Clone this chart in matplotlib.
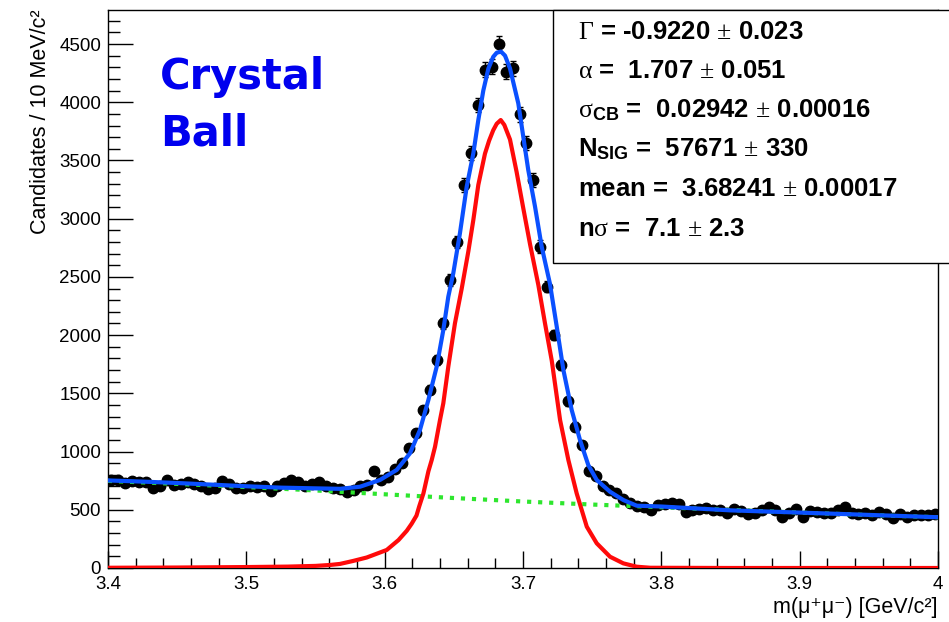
import numpy as np
import matplotlib.pyplot as plt
from matplotlib.patches import Rectangle
from matplotlib.ticker import MultipleLocator

plt.rcParams['font.family'] = ['Liberation Sans', 'DejaVu Sans']
plt.rcParams['mathtext.fontset'] = 'custom'
plt.rcParams['mathtext.rm'] = 'Liberation Sans:bold'
plt.rcParams['mathtext.bf'] = 'Liberation Sans:bold'
plt.rcParams['mathtext.sf'] = 'Liberation Serif'
plt.rcParams['mathtext.it'] = 'Liberation Serif'

# data: 5 MeV bins between 3.4 and 4.0 GeV
bin_centers = np.linspace(3.4025, 3.9975, 120)
counts = [760, 752, 730, 748, 742, 735, 690, 705, 755, 712,
          718, 740, 722, 705, 678, 690, 745, 725, 690, 685,
          700, 695, 705, 660, 700, 728, 752, 740, 700, 720,
          735, 705, 690, 675, 650, 668, 700, 715, 830, 760,
          785, 850, 900, 1030, 1160, 1355, 1530, 1785, 2100, 2475,
          2800, 3290, 3565, 3975, 4280, 4305, 4500, 4262, 4291, 3896,
          3647, 3332, 2760, 2416, 2000, 1745, 1430, 1215, 1056, 830,
          790, 700, 670, 640, 595, 560, 530, 520, 500, 540,
          548, 560, 552, 480, 498, 505, 515, 500, 495, 472,
          505, 490, 465, 475, 500, 525, 500, 440, 470, 510,
          440, 492, 478, 475, 470, 500, 525, 470, 462, 470,
          455, 478, 465, 430, 460, 435, 455, 458, 452, 462]

# total fit (blue)
total_x = [3.400, 3.425, 3.450, 3.475, 3.500, 3.525, 3.550, 3.5677, 3.5822, 3.5966,
           3.6087, 3.6183, 3.6255, 3.6316, 3.6376, 3.6424, 3.6460, 3.6496, 3.6544, 3.6593,
           3.6641, 3.6677, 3.6713, 3.6750, 3.6785, 3.6810, 3.6841, 3.6870, 3.6906, 3.6966,
           3.7002, 3.7038, 3.7087, 3.7135, 3.7195, 3.7244, 3.7292, 3.7352, 3.7412, 3.7472,
           3.7533, 3.7629, 3.7725, 3.7822, 3.800, 3.850, 3.900, 3.950, 4.000]
total_y = [752, 742, 730, 716, 702, 690, 684, 680, 698, 756,
           842, 985, 1185, 1443, 1729, 2044, 2330, 2531, 2874, 3275,
           3561, 3847, 4100, 4290, 4390, 4425, 4435, 4400, 4290, 3990,
           3704, 3418, 3103, 2760, 2440, 2072, 1700, 1357, 1099, 884,
           756, 655, 584, 535, 528, 495, 476, 456, 436]

# signal (red)
signal_x = [3.400, 3.450, 3.500, 3.530, 3.550, 3.5605, 3.5677, 3.577, 3.587, 3.6015,
            3.610, 3.616, 3.6195, 3.623, 3.625, 3.628, 3.6316, 3.634, 3.6364, 3.640,
            3.6424, 3.646, 3.6508, 3.6557, 3.6605, 3.6641, 3.6677, 3.6725, 3.6755, 3.6785,
            3.6810, 3.6839, 3.6865, 3.6906, 3.6954, 3.7002, 3.7051, 3.7111, 3.7159, 3.7208,
            3.7268, 3.7328, 3.7388, 3.7461, 3.7533, 3.7629, 3.7725, 3.7822, 3.792, 3.850,
            4.000]
signal_y = [2, 4, 8, 12, 18, 26, 35, 60, 90, 155,
            240, 320, 380, 450, 530, 640, 830, 927, 1041, 1271,
            1415, 1729, 2101, 2400, 2720, 2989, 3290, 3558, 3670, 3760,
            3815, 3847, 3805, 3680, 3400, 3090, 2780, 2430, 2101, 1780,
            1271, 927, 641, 355, 212, 97, 40, 11, 2, 0,
            0]

# background (green)
bkg_x = [3.40, 3.45, 3.50, 3.55, 3.60, 3.65, 3.70, 3.75, 3.80, 3.85, 3.90, 3.95, 4.00]
bkg_y = [748, 722, 695, 666, 633, 601, 571, 545, 522, 498, 476, 455, 436]

fit_lines = [
    r"$\mathsf{\Gamma}$ = -0.9220 $\mathsf{\pm}$ 0.023",
    r"$\mathsf{\alpha}$ =  1.707 $\mathsf{\pm}$ 0.051",
    r"$\mathsf{\sigma}_{\mathrm{CB}}$ =  0.02942 $\mathsf{\pm}$ 0.00016",
    r"N$_{\mathrm{SIG}}$ =  57671 $\mathsf{\pm}$ 330",
    r"mean =  3.68241 $\mathsf{\pm}$ 0.00017",
    r"n$\mathsf{\sigma}$ =  7.1 $\mathsf{\pm}$ 2.3",
]

W, H = 949, 622
fig = plt.figure(figsize=(W / 100, H / 100), dpi=100)
ax = fig.add_axes([108 / W, 1 - 568 / H, 830 / W, 558 / H])

errs = np.sqrt(counts)
ax.errorbar(bin_centers, counts, yerr=errs, fmt='o', color='black', ms=7.5,
            elinewidth=1, capsize=2.5, capthick=1, zorder=2)
ax.plot(bkg_x, bkg_y, color='#2ee62e', lw=3, ls=':', zorder=3)
ax.plot(signal_x, signal_y, color='#ff0a0a', lw=3, zorder=4)
ax.plot(total_x, total_y, color='#0a50ff', lw=3, zorder=5)

ax.set_xlim(3.4, 4.0)
ax.set_ylim(0, 4792)
ax.xaxis.set_minor_locator(MultipleLocator(0.02))
ax.yaxis.set_major_locator(MultipleLocator(500))
ax.yaxis.set_minor_locator(MultipleLocator(100))
ax.set_xticks([3.4, 3.5, 3.6, 3.7, 3.8, 3.9, 4.0])
ax.set_xticklabels(['3.4', '3.5', '3.6', '3.7', '3.8', '3.9', '4'])
ax.tick_params(direction='in', which='both', top=False, right=False, labelsize=13.5)
ax.tick_params(axis='x', which='major', length=12, width=1, pad=6)
ax.tick_params(axis='x', which='minor', length=7, width=1)
ax.tick_params(axis='y', which='major', length=18, width=1, pad=5)
ax.tick_params(axis='y', which='minor', length=8.5, width=1)
for s in ax.spines.values():
    s.set_linewidth(1)

ax.set_xlabel('m(μ⁺μ⁻) [GeV/c²]', fontsize=15.5, loc='right', labelpad=3)
ax.set_ylabel('Candidates / 10 MeV/c²', fontsize=15.5, loc='top', labelpad=6)

# fit result box
box = Rectangle((553 / W, 1 - 263 / H), 1.02 - 553 / W, (263 - 10) / H,
                transform=fig.transFigure, facecolor='white', edgecolor='black',
                lw=1, zorder=10, clip_on=False)
fig.add_artist(box)
line_y = [32, 71, 110, 149, 189, 229]
for txt, py in zip(fit_lines, line_y):
    fig.text(578 / W, 1 - py / H, txt, fontsize=18.5, fontweight='bold',
             va='center', ha='left', zorder=11)

fig.text(160 / W, 1 - 89 / H, 'Crystal', fontsize=30, fontweight='bold',
         family='DejaVu Sans', color='#0000ee', va='baseline')
fig.text(160 / W, 1 - 146 / H, 'Ball', fontsize=30, fontweight='bold',
         family='DejaVu Sans', color='#0000ee', va='baseline')

fig.savefig('out.png', dpi=100)
